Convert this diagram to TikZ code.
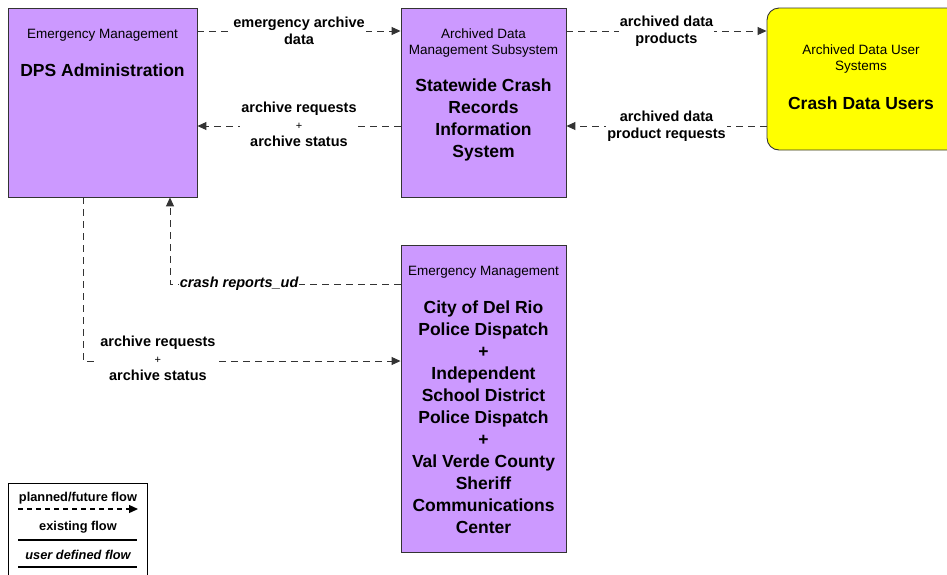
\documentclass[tikz,border=0pt]{standalone}
\usepackage{fontspec}
\setmainfont{Liberation Sans}
\usetikzlibrary{arrows.meta}
\definecolor{entpurple}{RGB}{204,153,255}
\definecolor{usryellow}{RGB}{255,255,0}
\newcommand\plussign{{\normalfont\fontsize{11}{11}\selectfont +}}
\begin{document}
\begin{tikzpicture}[x=1pt,y=-1pt,
   box/.style={draw=black!80,line width=0.9pt,inner sep=0pt},
   kind/.style={font=\fontsize{13.5}{16}\selectfont,align=center},
   title/.style={font=\fontsize{17.5}{22}\selectfont\bfseries,align=center},
   flow/.style={draw=black!80,line width=1pt,dash pattern=on 7pt off 5pt,
                -{Triangle[length=9pt,width=8pt]}},
   flowlbl/.style={font=\fontsize{14.5}{17}\selectfont\bfseries,align=center,
                   fill=white,inner xsep=1pt,inner ysep=0pt}]
   \useasboundingbox (0,0) rectangle (947,574);
   % the four boxes
   \node[box,fill=entpurple,minimum width=189pt,minimum height=189pt] (dps) at (102.5,102.5) {};
   \node[box,fill=entpurple,minimum width=165pt,minimum height=189pt] (sws) at (483.5,102.5) {};
   \node[box,fill=entpurple,minimum width=165pt,minimum height=307pt] (city) at (483.5,398.5) {};
   \node[box,fill=usryellow,rounded corners=12pt,minimum width=208pt,minimum height=142pt] (users) at (871,79) {};
   % texts inside them
   \node[kind] (dpsk) at (102.5,35) {Emergency Management};
   \node[title] (dpst) at (102.5,70) {DPS Administration};
   \node[kind] (swsk) at (483.5,43) {Archived Data\\Management  Subsystem};
   \node[title] (swst) at (483.5,119.5) {Statewide Crash\\Records\\Information\\System};
   \node[kind] (usrk) at (861,59) {Archived Data User\\Systems};
   \node[title] (usrt) at (861,103) {Crash Data Users};
   \node[kind] (cityk) at (483.5,272) {Emergency Management};
   \node[title] (cityt) at (483.5,417.5) {City of Del Rio\\Police Dispatch\\+\\Independent\\School District\\Police Dispatch\\+\\Val Verde County\\Sheriff\\Communications\\Center};
   % flows
   \draw[flow] (dps.east |- 0,31) -- (sws.west |- 0,31)
      node[flowlbl,midway] (f1) {emergency archive\\data};
   \draw[flow] (sws.west |- 0,126) -- (dps.east |- 0,126)
      node[flowlbl,midway,yshift=1.5pt] (f2) {archive requests\\\plussign\\archive status};
   \draw[flow] (sws.east |- 0,31) -- (users.west |- 0,31)
      node[flowlbl,midway] (f3) {archived data\\products};
   \draw[flow] (users.west |- 0,126) -- (sws.east |- 0,126)
      node[flowlbl,midway] (f4) {archived data\\product requests};
   \draw[flow] (city.west |- 0,284) -| (dps.south -| 170,0)
      node[flowlbl,pos=0.35,font=\fontsize{14.5}{17}\selectfont\bfseries\itshape] (f5) {crash reports\_ud};
   \draw[flow] (dps.south -| 83,0) |- (city.west |- 0,361)
      node[flowlbl,pos=0.618,yshift=2.5pt] (f6) {archive requests\\\plussign\\archive status};
   % legend
   \draw[line width=0.9pt] (8,583) -- (8,483) -- (147,483) -- (147,583);
   \node[font=\fontsize{12.8}{14}\selectfont\bfseries] (lg1) at (78,498) {planned/future flow};
   \draw[line width=1.3pt,dash pattern=on 5pt off 4pt,-{Triangle[length=9pt,width=8pt]}] (18,509) -- (138,509);
   \node[font=\fontsize{12.8}{14}\selectfont\bfseries] (lg2) at (78,527) {existing flow};
   \draw[line width=1.3pt] (18,540) -- (137,540);
   \node[font=\fontsize{12.8}{14}\selectfont\bfseries\itshape] (lg3) at (78,555) {user defined flow};
   \draw[line width=1.3pt] (18,567) -- (137,567);
\end{tikzpicture}
\end{document}
